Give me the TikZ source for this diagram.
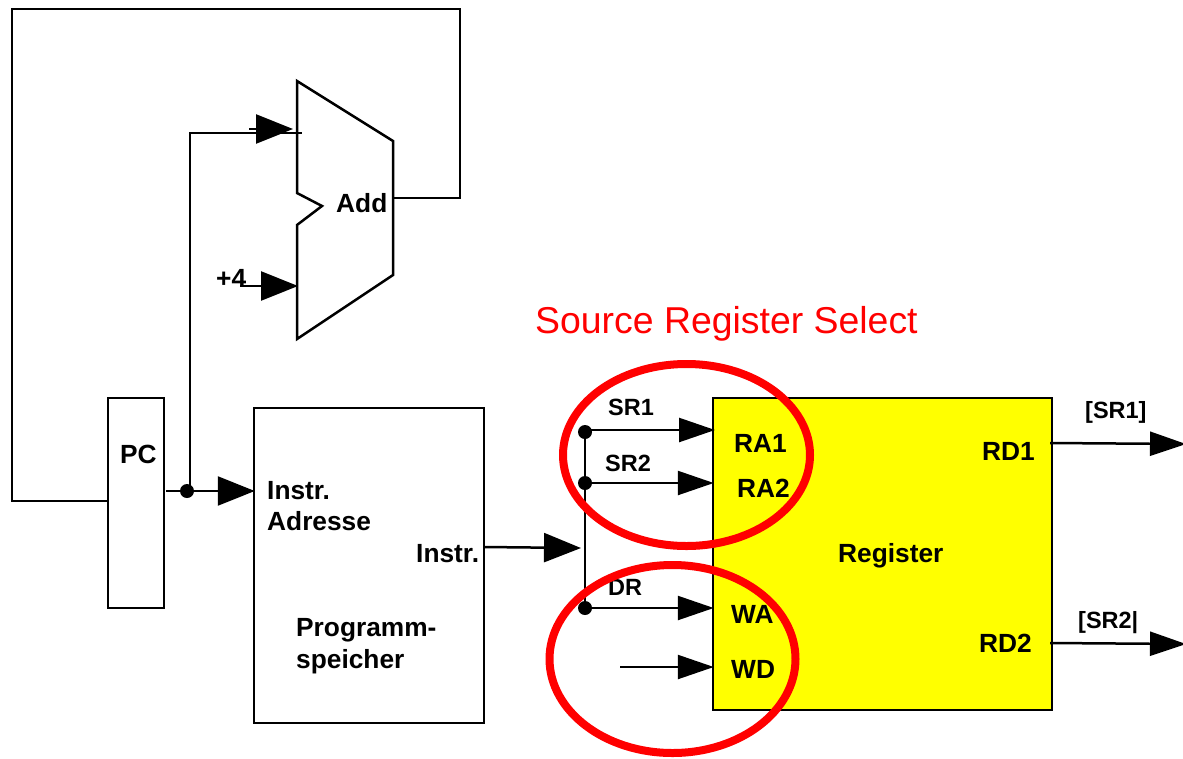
\documentclass[tikz,border=0pt]{standalone}
\usepackage{fontspec}
\setmainfont{Liberation Sans}
\usetikzlibrary{arrows.meta,calc}
\definecolor{pureyellow}{RGB}{255,255,0}
\definecolor{purered}{RGB}{255,0,0}
\tikzset{
  x=1pt,y=-1pt,
  wire/.style={draw=black,line width=2.5pt,line cap=butt,line join=miter},
  arrowwire/.style={wire,shorten >=-2pt,-{Triangle[length=37pt,width=29pt]}},
  slimarrow/.style={wire,shorten >=-2pt,-{Triangle[length=36pt,width=24pt]}},
  block/.style={draw=black,line width=2.5pt,rectangle,inner sep=0pt,minimum width=0pt},
  lab/.style={font=\bfseries\fontsize{26.3}{30}\selectfont,text=black,inner sep=0pt,anchor=base west},
  smalllab/.style={font=\bfseries\fontsize{23.5}{26}\selectfont,text=black,inner sep=0pt,anchor=base west},
  junction/.style={circle,fill=black,draw=none,minimum size=14pt,inner sep=0pt},
  selectring/.style={draw=purered,line width=8pt},
}
\begin{document}
\begin{tikzpicture}
\useasboundingbox (0,0) rectangle (1183,758);
% boxes
\node[block,minimum width=56pt,minimum height=210pt] (pc) at (136,503) {};
\node[block,minimum width=230pt,minimum height=315pt] (prog) at (369,565.5) {};
\node[block,fill=pureyellow,minimum width=339pt,minimum height=312pt] (reg) at (882.5,554) {};
% adder
\coordinate (a1) at (297,81);
\coordinate (a2) at (393,141);
\coordinate (a3) at (393,275);
\coordinate (a4) at (297,339);
\coordinate (a5) at (297,225);
\coordinate (a6) at (322,206);
\coordinate (a7) at (297,193);
\draw[wire,line join=miter] (a1) -- (a2) -- (a3) -- (a4) -- (a5) -- (a6) -- (a7) -- cycle;
% junctions
\node[junction] (j0) at (187,491) {};
\node[junction] (j1) at (585,432) {};
\node[junction] (j2) at (585,483) {};
\node[junction] (j3) at (585,608) {};
% free ends
\coordinate (addout) at (393,198);
\coordinate (fb1) at (460,198);
\coordinate (fb2) at (460,9);
\coordinate (fb3) at (12,9);
\coordinate (fb4) at (12,501);
\coordinate (pcout) at (166,491);
\coordinate (upend) at (190,491);
\coordinate (up1) at (190,133);
\coordinate (up2) at (302,133);
\coordinate (stub) at (249,129);
\coordinate (stubend) at (291,129);
\coordinate (four) at (240,286);
\coordinate (fourend) at (296,286);
\coordinate (instrout) at (484,547);
\coordinate (instrend) at (579,548);
\coordinate (wd) at (620,667);
\coordinate (ra1in) at (713,430);
\coordinate (rd1a) at (1050,443);
\coordinate (rd1b) at (1184,444);
\coordinate (rd2a) at (1050,643);
\coordinate (rd2b) at (1184,644);
% connectors
\draw[wire] (addout) -- (fb1) -- (fb2) -- (fb3) -- (fb4) -- (pc.west |- fb4);
\draw[wire] (pcout) -- (j0);
\draw[arrowwire] (j0) -- (prog.west |- j0);
\draw[wire] (upend) -- (up1) -- (up2);
\draw[arrowwire] (stub) -- (stubend);
\draw[arrowwire] (four) -- (fourend);
\draw[arrowwire] (instrout) -- (instrend);
\draw[wire] (j1) -- (j3);
\draw[slimarrow] (j1 |- ra1in) -- (ra1in);
\draw[slimarrow] (j2) -- (reg.west |- j2);
\draw[slimarrow] (j3) -- (reg.west |- j3);
\draw[slimarrow] (wd) -- (reg.west |- wd);
\draw[slimarrow] (rd1a) -- (rd1b);
\draw[slimarrow] (rd2a) -- (rd2b);
% labels
\node[lab] (tadd) at (336,212) {Add};
\node[lab] (tfour) at (216,287) {+4};
\node[lab] (tpc) at (120,463) {PC};
\node[lab] (tinstra) at (267,499) {Instr.};
\node[lab] (tadr) at (267,530) {Adresse};
\node[lab] (tinstr) at (416,562) {Instr.};
\node[lab] (tprog) at (296,636) {Programm-};
\node[lab] (tspei) at (296,668) {speicher};
\node[smalllab] (tsr1) at (608,415) {SR1};
\node[smalllab] (tsr2) at (605,471) {SR2};
\node[smalllab] (tdr) at (608,595) {DR};
\node[lab] (tra1) at (734,452) {RA1};
\node[lab] (tra2) at (737,497) {RA2};
\node[lab] (twa) at (731,623) {WA};
\node[lab] (twd) at (731,678) {WD};
\node[lab] (treg) at (838,562) {Register};
\node[lab] (trd1) at (982,460) {RD1};
\node[lab] (trd2) at (979,652) {RD2};
\node[smalllab] (tq1) at (1085,418) {[SR1]};
\node[smalllab] (tq2) at (1078,628) {[SR2|};
\node[font=\fontsize{37.4}{44}\selectfont,text=purered,inner sep=0pt,anchor=base west] (title) at (535,333) {Source Register Select};
% rings
\draw[selectring] (686.5,455) ellipse [x radius=123.5,y radius=91];
\draw[selectring] (672.5,659) ellipse [x radius=123,y radius=94];
\end{tikzpicture}
\end{document}
